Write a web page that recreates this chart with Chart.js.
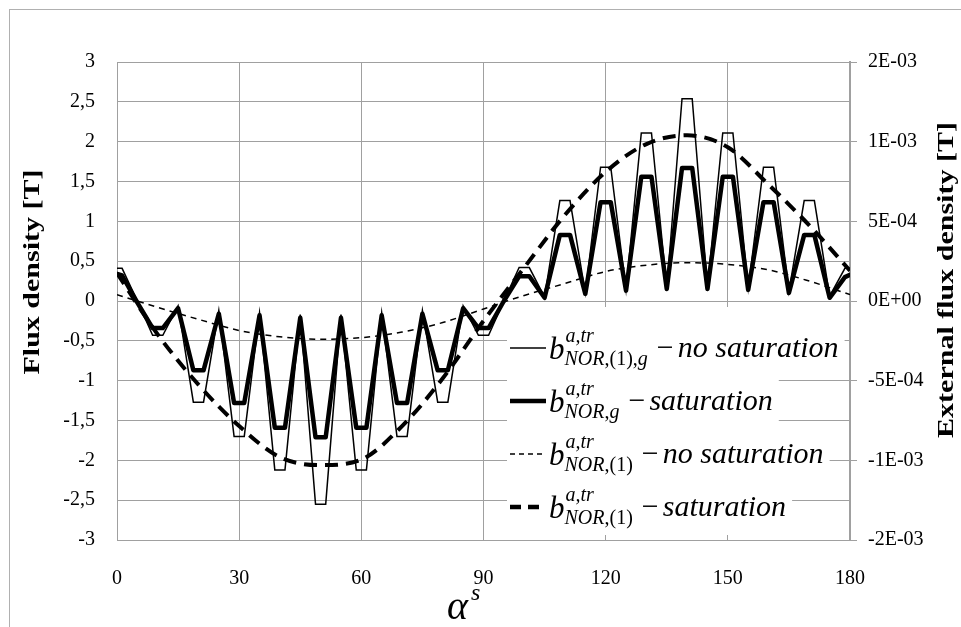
<!DOCTYPE html>
<html>
<head>
<meta charset="utf-8">
<script src="https://cdn.jsdelivr.net/npm/chart.js@4.4.1/dist/chart.umd.min.js"></script>
<style>
  html, body { margin: 0; padding: 0; background: #fff; }
  canvas { display: block; }
</style>
</head>
<body>
<canvas id="flux-chart" width="961" height="627"></canvas>
<script>
// rotor angle samples for the slotted (tooth) waveforms, degrees
const angleSolid = [0, 1.25, 5, 8.75, 11.25, 15, 18.75, 21.25, 25, 28.75, 31.25, 35, 38.75, 41.25,
    45, 48.75, 51.25, 55, 58.75, 61.25, 65, 68.75, 71.25, 75, 78.75, 81.25, 85, 88.75, 91.25,
    95, 98.75, 101.25, 105, 108.75, 111.25, 115, 118.75, 121.25, 125, 128.75, 131.25, 135,
    138.75, 141.25, 145, 148.75, 151.25, 155, 158.75, 161.25, 165, 168.75, 171.25, 175, 178.75, 180];

// b_NOR,(1),g - no saturation [T]
const fluxNoSat = [0.41, 0.41, 0.0, -0.43, -0.43, -0.06, -1.27, -1.27, -0.12, -1.70, -1.70, -0.15, -2.12, -2.12,
    -0.17, -2.55, -2.55, -0.17, -2.12, -2.12, -0.15, -1.70, -1.70, -0.12, -1.27, -1.27, -0.06, -0.43, -0.43,
    0.0, 0.42, 0.42, 0.05, 1.26, 1.26, 0.10, 1.68, 1.68, 0.14, 2.11, 2.11, 0.16,
    2.54, 2.54, 0.17, 2.11, 2.11, 0.16, 1.68, 1.68, 0.12, 1.26, 1.26, 0.06, 0.41, 0.41];

// b_NOR,g - saturation [T]
const fluxSat = [0.34, 0.32, -0.02, -0.34, -0.34, -0.09, -0.87, -0.87, -0.16, -1.28, -1.28, -0.18, -1.59, -1.59,
    -0.21, -1.71, -1.71, -0.21, -1.59, -1.59, -0.18, -1.28, -1.28, -0.16, -0.87, -0.87, -0.09, -0.34, -0.34,
    0.0, 0.31, 0.31, 0.04, 0.83, 0.83, 0.09, 1.24, 1.24, 0.13, 1.56, 1.56, 0.15,
    1.67, 1.67, 0.15, 1.56, 1.56, 0.14, 1.24, 1.24, 0.10, 0.83, 0.83, 0.04, 0.30, 0.33];

// fundamental (external) flux density, right axis [T]
const angleFund = [0, 10, 20, 30, 40, 50, 60, 70, 80, 90, 100, 110, 120, 130, 140, 150, 160, 170, 180];
const extNoSat = [4e-5, -4e-5, -1.15e-4, -1.85e-4, -2.25e-4, -2.4e-4, -2.3e-4, -1.95e-4, -1.35e-4, -5e-5,
    3.5e-5, 1.1e-4, 1.85e-4, 2.25e-4, 2.4e-4, 2.3e-4, 1.95e-4, 1.25e-4, 4e-5];
const extSat = [1.75e-4, -2.1e-4, -5.25e-4, -7.85e-4, -9.8e-4, -1.03e-3, -9.95e-4, -7.85e-4, -4.85e-4, -1.25e-4,
    2.1e-4, 5.4e-4, 8.1e-4, 9.85e-4, 1.04e-3, 9.65e-4, 7.3e-4, 4.75e-4, 1.9e-4];

// axis ticks
const xTicks = [0, 30, 60, 90, 120, 150, 180];
const leftTicks = [-3, -2.5, -2, -1.5, -1, -0.5, 0, 0.5, 1, 1.5, 2, 2.5, 3];
const rightTicks = [-1.5e-3, -1e-3, -5e-4, 0, 5e-4, 1e-3, 1.5e-3];

// legend: subscript pieces [text, italic] and the trailing description
const legendSubs = [
    [['NOR', true], [',(1),', false], ['g', true]],
    [['NOR', true], [',', false], ['g', true]],
    [['NOR', true], [',(1)', false]],
    [['NOR', true], [',(1)', false]]
];
const legendText = ['no saturation', 'saturation', 'no saturation', 'saturation'];

const SERIF = '"Liberation Serif", "Times New Roman", serif';
const GRID = '#a0a0a0';

// Excel "0E+00" number format
function sciLabel(v) {
    if (Math.abs(v) < 1e-12) return '0E+00';
    const sign = v < 0 ? '-' : '';
    let a = Math.abs(v);
    let e = Math.floor(Math.log10(a) + 1e-9);
    let m = Math.round(a / Math.pow(10, e) + 1e-9);
    if (m >= 10) { m = 1; e += 1; }
    const es = e < 0 ? '-' : '+';
    return sign + m + 'E' + es + String(Math.abs(e)).padStart(2, '0');
}

const decorPlugin = {
    id: 'decor',
    afterDraw(chart) {
        const ctx = chart.ctx;
        ctx.save();

        // outer frame
        ctx.strokeStyle = '#b0b0b0';
        ctx.lineWidth = 1;
        ctx.strokeRect(9.5, 9.5, 1000, 1000);

        // legend
        const lineY = [348, 401, 454, 507];
        const boxY = [[307, 372], [372, 432], [432, 480], [480, 535]];
        const styles = [
            { w: 1.5, dash: [] },
            { w: 4.5, dash: [] },
            { w: 1.5, dash: [5, 4] },
            { w: 4.5, dash: [11, 7] }
        ];
        ctx.textBaseline = 'alphabetic';
        ctx.textAlign = 'left';
        for (let i = 0; i < 4; i++) {
            const y = lineY[i];
            let x = 549;
            ctx.font = 'italic 31px ' + SERIF;
            const bw = ctx.measureText('b').width;
            let sx = x + bw;
            let subW = 0;
            legendSubs[i].forEach(([t, it]) => {
                ctx.font = (it ? 'italic ' : '') + '20px ' + SERIF;
                subW += ctx.measureText(t).width;
            });
            const dashX = sx + subW + 9;
            ctx.font = '30px ' + SERIF;
            const minusW = ctx.measureText('\u2212').width;
            const textX = dashX + minusW + 4;
            ctx.font = 'italic 30px ' + SERIF;
            const textW = ctx.measureText(legendText[i]).width;

            ctx.fillStyle = '#fff';
            ctx.fillRect(507, boxY[i][0], textX + textW + 6 - 507, boxY[i][1] - boxY[i][0]);

            // sample line
            ctx.strokeStyle = '#000';
            ctx.lineWidth = styles[i].w;
            ctx.setLineDash(styles[i].dash);
            ctx.beginPath();
            ctx.moveTo(510, y);
            ctx.lineTo(546, y);
            ctx.stroke();
            ctx.setLineDash([]);

            const base = y + 11;
            ctx.fillStyle = '#000';
            ctx.font = 'italic 31px ' + SERIF;
            ctx.fillText('b', x, base);
            ctx.font = 'italic 20px ' + SERIF;
            ctx.fillText('a,tr', sx + 1, base - 17);
            legendSubs[i].forEach(([t, it]) => {
                ctx.font = (it ? 'italic ' : '') + '20px ' + SERIF;
                ctx.fillText(t, sx, base + 6);
                sx += ctx.measureText(t).width;
            });
            ctx.font = '30px ' + SERIF;
            ctx.fillText('\u2212', dashX, base - 2);
            ctx.font = 'italic 30px ' + SERIF;
            ctx.fillText(legendText[i], textX, base - 2);
        }

        // axis titles
        ctx.fillStyle = '#000';
        ctx.textAlign = 'center';
        ctx.textBaseline = 'middle';
        ctx.font = 'bold 30px ' + SERIF;
        ctx.save();
        ctx.translate(33, 272);
        ctx.rotate(-Math.PI / 2);
        ctx.scale(1, 0.8);
        ctx.fillText('Flux density [T]', 0, 0);
        ctx.restore();
        ctx.save();
        ctx.translate(947, 280);
        ctx.rotate(-Math.PI / 2);
        ctx.scale(1, 0.8);
        ctx.fillText('External flux density [T]', 0, 0);
        ctx.restore();

        // alpha^s
        ctx.textAlign = 'left';
        ctx.textBaseline = 'alphabetic';
        ctx.font = 'italic 40px ' + SERIF;
        ctx.fillText('\u03b1', 447, 619);
        ctx.font = 'italic 24px ' + SERIF;
        ctx.fillText('s', 471, 600);

        ctx.restore();
    }
};

const canvas = document.getElementById('flux-chart');
const ctx = canvas.getContext('2d');

new Chart(ctx, {
    type: 'line',
    data: {
        datasets: [
            {
                label: 'b NOR,(1),g - no saturation',
                data: angleSolid.map((a, i) => ({ x: a, y: fluxNoSat[i] })),
                borderColor: '#000',
                borderWidth: 1.5,
                borderJoinStyle: 'miter',
                pointRadius: 0,
                tension: 0,
                yAxisID: 'y'
            },
            {
                label: 'b NOR,g - saturation',
                data: angleSolid.map((a, i) => ({ x: a, y: fluxSat[i] })),
                borderColor: '#000',
                borderWidth: 4.5,
                borderJoinStyle: 'round',
                borderCapStyle: 'round',
                pointRadius: 0,
                tension: 0,
                yAxisID: 'y'
            },
            {
                label: 'b NOR,(1) - no saturation',
                data: angleFund.map((a, i) => ({ x: a, y: extNoSat[i] })),
                borderColor: '#000',
                borderWidth: 1.5,
                borderDash: [6, 5],
                pointRadius: 0,
                cubicInterpolationMode: 'monotone',
                yAxisID: 'y1'
            },
            {
                label: 'b NOR,(1) - saturation',
                data: angleFund.map((a, i) => ({ x: a, y: extSat[i] })),
                borderColor: '#000',
                borderWidth: 4,
                borderDash: [13, 8],
                pointRadius: 0,
                cubicInterpolationMode: 'monotone',
                yAxisID: 'y1'
            }
        ]
    },
    options: {
        responsive: false,
        animation: false,
        events: [],
        layout: {
            padding: { top: 62, left: 0, right: 0, bottom: 0 }
        },
        plugins: {
            legend: { display: false },
            tooltip: { enabled: false }
        },
        scales: {
            x: {
                type: 'linear',
                min: 0,
                max: 180,
                afterBuildTicks: (s) => { s.ticks = xTicks.map(v => ({ value: v })); },
                afterFit: (s) => { s.height = 87; },
                grid: {
                    color: GRID,
                    lineWidth: 1,
                    drawTicks: false
                },
                border: { color: GRID, width: 1 },
                ticks: {
                    color: '#000',
                    padding: 27,
                    maxRotation: 0,
                    font: { family: SERIF, size: 20 }
                }
            },
            y: {
                position: 'left',
                min: -3,
                max: 3,
                afterBuildTicks: (s) => { s.ticks = leftTicks.map(v => ({ value: v })); },
                afterFit: (s) => { s.width = 117; },
                grid: {
                    color: GRID,
                    lineWidth: 1,
                    drawTicks: false
                },
                border: { color: GRID, width: 1 },
                ticks: {
                    color: '#000',
                    padding: 22,
                    font: { family: SERIF, size: 20 },
                    callback: (v) => String(v).replace('.', ',')
                }
            },
            y1: {
                position: 'right',
                min: -1.5e-3,
                max: 1.5e-3,
                afterBuildTicks: (s) => { s.ticks = rightTicks.map(v => ({ value: v })); },
                afterFit: (s) => { s.width = 111; },
                grid: {
                    drawOnChartArea: false,
                    color: GRID,
                    tickLength: 7,
                    drawTicks: true
                },
                border: { color: GRID, width: 2 },
                ticks: {
                    color: '#000',
                    padding: 11,
                    font: { family: SERIF, size: 20 },
                    callback: (v) => sciLabel(v)
                }
            }
        }
    },
    plugins: [decorPlugin]
});
</script>
</body>
</html>
